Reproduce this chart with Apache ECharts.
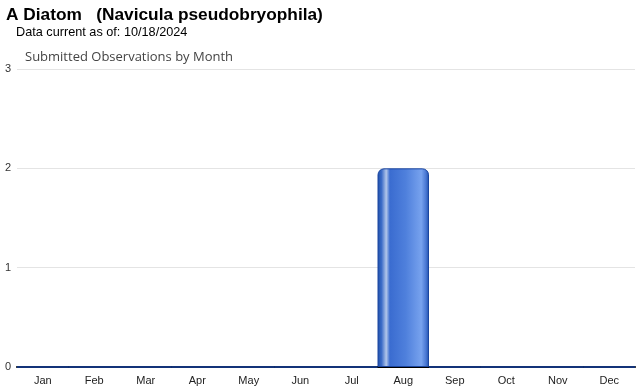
<!DOCTYPE html>
<html><head><meta charset="utf-8">
<script src="https://cdn.jsdelivr.net/npm/echarts@6/dist/echarts.min.js"></script>
<style>html,body{margin:0;padding:0;background:#fff}#c{width:640px;height:390px}</style>
</head><body><div id="c"></div>
<script>
const months = ['Jan','Feb','Mar','Apr','May','Jun','Jul','Aug','Sep','Oct','Nov','Dec'];
const observations = [0,0,0,0,0,0,0,2,0,0,0,0];
const yTicks = [0,1,2,3];

const chart = echarts.init(document.getElementById('c'), null, {renderer:'canvas'});
const barGrad = new echarts.graphic.LinearGradient(0,0,1,0,[
  {offset:0, color:'#1d4ea8'},
  {offset:0.08, color:'#3c6cc8'},
  {offset:0.17, color:'#b2c6ea'},
  {offset:0.24, color:'#3a6cd0'},
  {offset:0.55, color:'#4f80dc'},
  {offset:0.85, color:'#77a2ee'},
  {offset:0.94, color:'#4a78d4'},
  {offset:1, color:'#1d4ea8'}
]);
chart.setOption({
  animation:false,
  title:[
    {text:'A Diatom   (Navicula pseudobryophila)', left:6, top:7, padding:0,
     textStyle:{fontFamily:'Liberation Sans, Arial', fontSize:17.3, fontWeight:'bold', color:'#000'}},
    {text:'Data current as of: 10/18/2024', left:16, top:26, padding:0,
     textStyle:{fontFamily:'Liberation Sans, Arial', fontSize:12.7, fontWeight:'normal', color:'#000'}},
    {text:'Submitted Observations by Month', left:25, top:51, padding:0,
     textStyle:{fontFamily:'Open Sans, Liberation Sans', fontSize:13, fontWeight:'normal', color:'#444'}}
  ],
  grid:{left:17, right:5, top:69, bottom:23, containLabel:false},
  xAxis:{type:'category', data:months,
    axisLine:{lineStyle:{color:'#000000', width:2}},
    axisTick:{alignWithLabel:true, length:5, lineStyle:{color:'#cccccc'}},
    axisLabel:{fontFamily:'Liberation Sans, Arial', fontSize:11, color:'#222', margin:8}},
  yAxis:{type:'value', min:0, max:yTicks[yTicks.length-1], interval:1,
    axisLine:{show:false}, axisTick:{show:false},
    splitLine:{lineStyle:{color:'#e4e4e4'}},
    axisLabel:{fontFamily:'Liberation Sans, Arial', fontSize:11, color:'#333', margin:6}},
  series:[{type:'bar', data:observations, barWidth:'100%', barCategoryGap:'0%',
    itemStyle:{color:barGrad, borderColor:'#1a45a0', borderWidth:1, borderRadius:[6,6,0,0]}}]
});
</script></body></html>
